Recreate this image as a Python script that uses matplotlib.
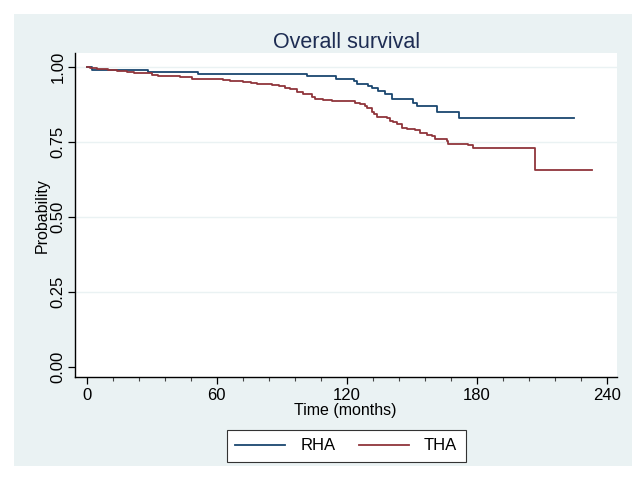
import matplotlib
matplotlib.use("Agg")
import matplotlib.pyplot as plt
from matplotlib.patches import Rectangle
from matplotlib.ticker import MultipleLocator

plt.rcParams["font.family"] = ["Liberation Sans", "DejaVu Sans"]

# Kaplan-Meier step points (time in months, survival)
rha_time = [0, 2.3, 28.4, 51.5, 101.5, 114.9, 123.5, 124.9, 129.7, 131.5, 134.6,
            137.7, 140.7, 150.7, 152.3, 161.5, 171.9, 225]
rha_surv = [1.0, 0.991, 0.983, 0.977, 0.970, 0.961, 0.952, 0.943, 0.937, 0.928, 0.918,
            0.908, 0.892, 0.880, 0.868, 0.850, 0.831, 0.831]

tha_time = [0, 1.5, 5, 10, 13.8, 18.5, 22, 24.6, 30, 33, 36, 43, 48.5, 56, 63, 66,
            72.3, 76, 78.4, 85.4, 89, 91.5, 94, 96.9, 100, 103.8, 105.4, 108.9, 113,
            123.8, 126, 128.4, 129.5, 131.5, 132.5, 133.8, 138.4, 140, 141.5, 143,
            145.4, 147.7, 151.5, 153.8, 156.9, 159.2, 160.7, 166.1, 166.9, 176.1,
            178.1, 206.9, 233]
tha_surv = [1.0, 0.996, 0.993, 0.990, 0.987, 0.983, 0.980, 0.978, 0.974, 0.971, 0.968,
            0.965, 0.961, 0.959, 0.955, 0.953, 0.950, 0.946, 0.943, 0.938, 0.935, 0.929,
            0.925, 0.916, 0.909, 0.901, 0.894, 0.888, 0.886, 0.880, 0.875, 0.868, 0.862,
            0.851, 0.844, 0.834, 0.828, 0.821, 0.815, 0.808, 0.797, 0.792, 0.788, 0.781,
            0.774, 0.768, 0.761, 0.754, 0.743, 0.738, 0.728, 0.656, 0.656]

groups = ["RHA", "THA"]
x_ticks = [0, 60, 120, 180, 240]
y_ticks = [0, 0.25, 0.5, 0.75, 1.0]

bg = "#EAF2F3"
navy = "#1A476F"
maroon = "#90353B"

fig = plt.figure(figsize=(6.32, 4.78), dpi=100)
fig.patch.set_facecolor("white")
fig.patches.append(Rectangle((14 / 632, 12 / 478), 1 - 14 / 632, 1 - 26 / 478,
                             transform=fig.transFigure, facecolor=bg,
                             edgecolor="none", zorder=-10))

ax = fig.add_axes([74.7 / 632, 100.7 / 478, 542 / 632, 324.3 / 478])
ax.set_facecolor("white")

ax.step(rha_time, rha_surv, where="post", color=navy, lw=1.3, label=groups[0])
ax.step(tha_time, tha_surv, where="post", color=maroon, lw=1.3, label=groups[1])

ax.set_xlim(-5.5, 244.6)
ax.set_ylim(-0.034, 1.046)
ax.set_xticks(x_ticks)
ax.xaxis.set_minor_locator(MultipleLocator(12))
ax.set_yticks(y_ticks)
ax.set_yticklabels([f"{v:.2f}" for v in y_ticks], rotation=90, va="center")

for v in y_ticks[1:]:
    ax.axhline(v, color=bg, lw=1.0, zorder=0)

for s in ["top", "right"]:
    ax.spines[s].set_visible(False)
for s in ["left", "bottom"]:
    ax.spines[s].set_color("black")
    ax.spines[s].set_linewidth(1.0)

ax.tick_params(axis="both", which="major", length=5, width=0.9, labelsize=12,
               colors="black", pad=3)
ax.tick_params(axis="y", which="major", pad=1.5)
ax.tick_params(axis="x", which="minor", length=3, width=0.8, color="#444444")

ax.set_xlabel("Time (months)", fontsize=11.5, labelpad=0)
ax.set_ylabel("Probability", fontsize=11.5, labelpad=1)
fig.text(0.548, 0.912, "Overall survival", ha="center", va="center",
         fontsize=15.5, color="#1E2D53")

leg = fig.legend(loc="center", bbox_to_anchor=(0.548, 0.067), ncol=2,
                 fontsize=12, frameon=True, fancybox=False, edgecolor="#333333",
                 framealpha=1, handlelength=3.0, columnspacing=1.4,
                 handletextpad=0.9, borderpad=0.5)
leg.get_frame().set_linewidth(0.8)

fig.savefig("out.png", dpi=100)
